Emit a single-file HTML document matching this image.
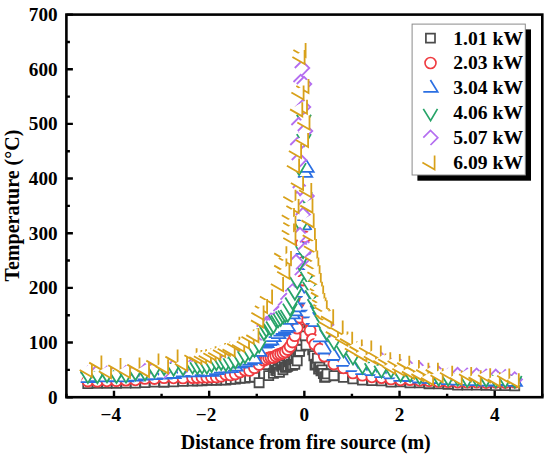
<!DOCTYPE html>
<html><head><meta charset="utf-8"><style>
html,body{margin:0;padding:0;background:#fff;}
svg{display:block}
text{font-family:"Liberation Serif",serif;font-weight:bold;fill:#000}
.tk{font-size:19.2px}
.lg{font-size:19.6px}
.ttl{font-size:20px}
</style></head><body>
<svg width="550" height="458" viewBox="0 0 550 458">
<rect width="550" height="458" fill="#fff"/>
<svg x="66.4" y="14.6" width="475.9" height="382.6" viewBox="66.4 14.6 475.9 382.6" overflow="hidden">
<defs><g id="mgray"><path d="M-4.55 -4.55H4.55V4.55H-4.55Z" fill="#fff"/><path d="M-4.55 -4.55H4.55V4.55H-4.55Z" fill="none" stroke="#4b4b4b" stroke-width="1.8"/></g><g id="mblue"><path d="M-0.1 -7.9L7.2 3.9H-7.2Z" fill="#fff"/><path d="M-0.1 -7.9L7.2 3.9H-7.2" fill="none" stroke="#2b6fe2" stroke-width="1.8"/></g><g id="mgreen"><path d="M-7.2 -3.9L0.1 7.9L7.0 -3.9Z" fill="#fff"/><path d="M-7.2 -3.9L0.1 7.9L7.0 -3.9" fill="none" stroke="#27a468" stroke-width="1.8"/></g><g id="mpurple"><path d="M-7.2 0L0 -7.2L7.3 0L0 7.3Z" fill="#fff"/><path d="M-7.2 0L0 -7.2L7.3 0L0 7.3" fill="none" stroke="#b46ef0" stroke-width="1.8"/></g><g id="morange"><path d="M4.1 -7.1V7.0L-8.1 0Z" fill="#fff"/><path d="M4.1 -7.1V7.0L-8.1 0" fill="none" stroke="#d8a11a" stroke-width="1.8"/></g><circle id="mred" r="5.5" fill="#fff" stroke="#ef3b40" stroke-width="1.8"/></defs>
<use href="#mgray" x="87.8" y="383.5"/><use href="#mgray" x="97.3" y="383.3"/><use href="#mgray" x="106.9" y="383.3"/><use href="#mgray" x="116.4" y="383.3"/><use href="#mgray" x="125.9" y="383.0"/><use href="#mgray" x="135.4" y="383.0"/><use href="#mgray" x="144.9" y="382.5"/><use href="#mgray" x="154.4" y="382.0"/><use href="#mgray" x="164.0" y="382.2"/><use href="#mgray" x="173.5" y="381.9"/><use href="#mgray" x="183.0" y="381.4"/><use href="#mgray" x="192.5" y="381.1"/><use href="#mgray" x="197.3" y="380.9"/><use href="#mgray" x="202.0" y="380.9"/><use href="#mgray" x="206.8" y="380.4"/><use href="#mgray" x="211.5" y="380.0"/><use href="#mgray" x="216.3" y="380.3"/><use href="#mgray" x="221.1" y="379.9"/><use href="#mgray" x="225.8" y="380.0"/><use href="#mgray" x="230.6" y="379.4"/><use href="#mgray" x="235.3" y="379.1"/><use href="#mgray" x="240.1" y="378.2"/><use href="#mgray" x="244.9" y="378.1"/><use href="#mgray" x="249.6" y="377.3"/><use href="#mgray" x="254.4" y="377.1"/><use href="#mgray" x="259.1" y="382.7"/><use href="#mgray" x="263.9" y="373.6"/><use href="#mgray" x="268.7" y="375.6"/><use href="#mgray" x="273.4" y="373.3"/><use href="#mgray" x="274.6" y="367.6"/><use href="#mgray" x="275.8" y="370.3"/><use href="#mgray" x="277.0" y="370.8"/><use href="#mgray" x="278.2" y="369.1"/><use href="#mgray" x="279.4" y="372.4"/><use href="#mgray" x="280.6" y="365.0"/><use href="#mgray" x="281.7" y="366.4"/><use href="#mgray" x="282.9" y="369.7"/><use href="#mgray" x="284.1" y="365.0"/><use href="#mgray" x="285.3" y="367.2"/><use href="#mgray" x="286.5" y="367.1"/><use href="#mgray" x="287.7" y="366.3"/><use href="#mgray" x="288.9" y="361.8"/><use href="#mgray" x="290.1" y="365.1"/><use href="#mgray" x="291.3" y="364.2"/><use href="#mgray" x="292.5" y="365.2"/><use href="#mgray" x="293.6" y="359.8"/><use href="#mgray" x="294.8" y="364.4"/><use href="#mgray" x="296.0" y="358.5"/><use href="#mgray" x="297.2" y="360.8"/><use href="#mgray" x="298.4" y="351.4"/><use href="#mgray" x="299.6" y="351.4"/><use href="#mgray" x="300.8" y="346.1"/><use href="#mgray" x="302.0" y="340.3"/><use href="#mgray" x="303.2" y="333.5"/><use href="#mgray" x="304.4" y="328.9"/><use href="#mgray" x="306.7" y="320.6"/><use href="#mgray" x="307.9" y="328.5"/><use href="#mgray" x="309.1" y="334.8"/><use href="#mgray" x="310.3" y="340.0"/><use href="#mgray" x="311.5" y="343.9"/><use href="#mgray" x="312.7" y="349.8"/><use href="#mgray" x="313.9" y="355.7"/><use href="#mgray" x="315.1" y="365.0"/><use href="#mgray" x="316.2" y="364.2"/><use href="#mgray" x="317.4" y="358.2"/><use href="#mgray" x="318.6" y="369.0"/><use href="#mgray" x="319.8" y="367.2"/><use href="#mgray" x="321.0" y="370.7"/><use href="#mgray" x="322.2" y="370.0"/><use href="#mgray" x="323.4" y="373.5"/><use href="#mgray" x="324.6" y="377.2"/><use href="#mgray" x="325.8" y="376.8"/><use href="#mgray" x="327.0" y="373.9"/><use href="#mgray" x="333.9" y="375.7"/><use href="#mgray" x="343.4" y="377.3"/><use href="#mgray" x="352.9" y="378.8"/><use href="#mgray" x="362.4" y="380.1"/><use href="#mgray" x="371.9" y="380.6"/><use href="#mgray" x="381.4" y="380.9"/><use href="#mgray" x="391.0" y="382.1"/><use href="#mgray" x="400.5" y="381.8"/><use href="#mgray" x="410.0" y="382.9"/><use href="#mgray" x="419.5" y="382.9"/><use href="#mgray" x="429.0" y="383.7"/><use href="#mgray" x="438.6" y="383.8"/><use href="#mgray" x="448.1" y="384.4"/><use href="#mgray" x="457.6" y="385.1"/><use href="#mgray" x="467.1" y="385.0"/><use href="#mgray" x="476.6" y="385.0"/><use href="#mgray" x="486.1" y="385.4"/><use href="#mgray" x="495.7" y="385.6"/><use href="#mgray" x="505.2" y="385.6"/><use href="#mgray" x="514.7" y="385.9"/><use href="#mgray" x="300.0" y="326.0"/><use href="#mgray" x="302.0" y="320.0"/><use href="#mgray" x="304.0" y="316.0"/><use href="#mgray" x="303.0" y="332.0"/><use href="#mgray" x="301.0" y="340.0"/><use href="#mgray" x="305.0" y="336.0"/><use href="#mgray" x="306.0" y="345.0"/>
<use href="#mred" x="87.8" y="381.0"/><use href="#mred" x="97.3" y="381.2"/><use href="#mred" x="106.9" y="380.8"/><use href="#mred" x="116.4" y="380.7"/><use href="#mred" x="125.9" y="380.1"/><use href="#mred" x="135.4" y="379.8"/><use href="#mred" x="144.9" y="378.4"/><use href="#mred" x="154.4" y="378.5"/><use href="#mred" x="164.0" y="377.7"/><use href="#mred" x="173.5" y="377.8"/><use href="#mred" x="183.0" y="377.9"/><use href="#mred" x="192.5" y="377.6"/><use href="#mred" x="197.3" y="377.5"/><use href="#mred" x="202.0" y="377.2"/><use href="#mred" x="206.8" y="377.2"/><use href="#mred" x="211.5" y="376.9"/><use href="#mred" x="216.3" y="376.9"/><use href="#mred" x="221.1" y="376.2"/><use href="#mred" x="225.8" y="374.5"/><use href="#mred" x="230.6" y="374.9"/><use href="#mred" x="235.3" y="374.0"/><use href="#mred" x="240.1" y="371.9"/><use href="#mred" x="244.9" y="370.1"/><use href="#mred" x="249.6" y="370.4"/><use href="#mred" x="254.4" y="367.7"/><use href="#mred" x="259.1" y="364.4"/><use href="#mred" x="263.9" y="360.3"/><use href="#mred" x="266.3" y="359.2"/><use href="#mred" x="268.7" y="357.9"/><use href="#mred" x="271.0" y="357.4"/><use href="#mred" x="273.4" y="357.4"/><use href="#mred" x="275.8" y="355.9"/><use href="#mred" x="278.2" y="354.6"/><use href="#mred" x="280.6" y="353.9"/><use href="#mred" x="282.9" y="352.9"/><use href="#mred" x="285.3" y="351.8"/><use href="#mred" x="287.7" y="349.5"/><use href="#mred" x="290.1" y="346.5"/><use href="#mred" x="292.5" y="342.0"/><use href="#mred" x="294.8" y="335.7"/><use href="#mred" x="297.2" y="328.1"/><use href="#mred" x="299.6" y="317.2"/><use href="#mred" x="302.0" y="297.3"/><use href="#mred" x="305.3" y="306.2"/><use href="#mred" x="307.7" y="320.0"/><use href="#mred" x="310.1" y="330.6"/><use href="#mred" x="312.4" y="339.4"/><use href="#mred" x="314.8" y="344.3"/><use href="#mred" x="319.6" y="349.2"/><use href="#mred" x="324.3" y="356.1"/><use href="#mred" x="333.9" y="364.0"/><use href="#mred" x="343.4" y="367.8"/><use href="#mred" x="352.9" y="372.9"/><use href="#mred" x="362.4" y="375.2"/><use href="#mred" x="371.9" y="376.8"/><use href="#mred" x="381.4" y="377.6"/><use href="#mred" x="391.0" y="378.9"/><use href="#mred" x="400.5" y="379.8"/><use href="#mred" x="410.0" y="379.6"/><use href="#mred" x="419.5" y="380.3"/><use href="#mred" x="429.0" y="380.7"/><use href="#mred" x="438.6" y="381.4"/><use href="#mred" x="448.1" y="381.6"/><use href="#mred" x="457.6" y="382.0"/><use href="#mred" x="467.1" y="382.2"/><use href="#mred" x="476.6" y="382.0"/><use href="#mred" x="486.1" y="382.5"/><use href="#mred" x="495.7" y="382.3"/><use href="#mred" x="505.2" y="382.5"/><use href="#mred" x="514.7" y="382.1"/><use href="#mred" x="301.5" y="243.5"/><use href="#mred" x="305.0" y="237.0"/><use href="#mred" x="304.0" y="262.0"/><use href="#mred" x="303.0" y="280.0"/><use href="#mred" x="305.0" y="300.0"/><use href="#mred" x="305.0" y="312.0"/>
<use href="#mblue" x="87.8" y="378.3"/><use href="#mblue" x="97.3" y="377.2"/><use href="#mblue" x="106.9" y="377.4"/><use href="#mblue" x="116.4" y="377.2"/><use href="#mblue" x="125.9" y="377.4"/><use href="#mblue" x="135.4" y="376.7"/><use href="#mblue" x="144.9" y="375.6"/><use href="#mblue" x="154.4" y="375.3"/><use href="#mblue" x="164.0" y="374.6"/><use href="#mblue" x="173.5" y="374.1"/><use href="#mblue" x="183.0" y="372.6"/><use href="#mblue" x="192.5" y="371.9"/><use href="#mblue" x="197.3" y="372.4"/><use href="#mblue" x="202.0" y="371.2"/><use href="#mblue" x="206.8" y="371.6"/><use href="#mblue" x="211.5" y="372.0"/><use href="#mblue" x="216.3" y="370.3"/><use href="#mblue" x="221.1" y="368.7"/><use href="#mblue" x="225.8" y="368.5"/><use href="#mblue" x="230.6" y="368.3"/><use href="#mblue" x="235.3" y="366.8"/><use href="#mblue" x="240.1" y="363.7"/><use href="#mblue" x="244.9" y="362.5"/><use href="#mblue" x="249.6" y="360.8"/><use href="#mblue" x="254.4" y="359.2"/><use href="#mblue" x="259.1" y="352.0"/><use href="#mblue" x="263.9" y="343.8"/><use href="#mblue" x="266.3" y="343.1"/><use href="#mblue" x="268.7" y="341.2"/><use href="#mblue" x="271.0" y="340.5"/><use href="#mblue" x="273.4" y="337.2"/><use href="#mblue" x="275.8" y="333.3"/><use href="#mblue" x="278.2" y="334.3"/><use href="#mblue" x="280.6" y="331.7"/><use href="#mblue" x="282.9" y="330.1"/><use href="#mblue" x="285.3" y="328.5"/><use href="#mblue" x="287.7" y="327.0"/><use href="#mblue" x="290.1" y="320.0"/><use href="#mblue" x="292.5" y="314.4"/><use href="#mblue" x="294.8" y="311.4"/><use href="#mblue" x="297.2" y="307.4"/><use href="#mblue" x="299.6" y="292.9"/><use href="#mblue" x="302.0" y="265.1"/><use href="#mblue" x="304.4" y="216.4"/><use href="#mblue" x="305.8" y="299.6"/><use href="#mblue" x="308.2" y="306.7"/><use href="#mblue" x="310.5" y="313.4"/><use href="#mblue" x="312.9" y="320.0"/><use href="#mblue" x="315.3" y="322.3"/><use href="#mblue" x="320.1" y="337.4"/><use href="#mblue" x="324.8" y="349.6"/><use href="#mblue" x="333.9" y="356.1"/><use href="#mblue" x="343.4" y="362.0"/><use href="#mblue" x="352.9" y="367.2"/><use href="#mblue" x="362.4" y="370.2"/><use href="#mblue" x="371.9" y="371.3"/><use href="#mblue" x="381.4" y="373.2"/><use href="#mblue" x="391.0" y="374.4"/><use href="#mblue" x="400.5" y="376.9"/><use href="#mblue" x="410.0" y="377.1"/><use href="#mblue" x="419.5" y="378.6"/><use href="#mblue" x="429.0" y="379.0"/><use href="#mblue" x="438.6" y="379.2"/><use href="#mblue" x="448.1" y="380.3"/><use href="#mblue" x="457.6" y="380.8"/><use href="#mblue" x="467.1" y="381.0"/><use href="#mblue" x="476.6" y="381.3"/><use href="#mblue" x="486.1" y="381.7"/><use href="#mblue" x="495.7" y="381.4"/><use href="#mblue" x="505.2" y="381.1"/><use href="#mblue" x="514.7" y="382.0"/><use href="#mblue" x="305.0" y="173.0"/><use href="#mblue" x="306.5" y="168.0"/><use href="#mblue" x="304.0" y="225.4"/><use href="#mblue" x="303.0" y="250.0"/>
<use href="#mpurple" x="87.8" y="373.5"/><use href="#mpurple" x="97.3" y="372.0"/><use href="#mpurple" x="106.9" y="373.6"/><use href="#mpurple" x="116.4" y="371.4"/><use href="#mpurple" x="125.9" y="373.1"/><use href="#mpurple" x="135.4" y="371.3"/><use href="#mpurple" x="144.9" y="371.3"/><use href="#mpurple" x="154.4" y="368.3"/><use href="#mpurple" x="164.0" y="371.1"/><use href="#mpurple" x="173.5" y="366.9"/><use href="#mpurple" x="183.0" y="367.9"/><use href="#mpurple" x="192.5" y="365.2"/><use href="#mpurple" x="197.3" y="363.4"/><use href="#mpurple" x="206.8" y="363.2"/><use href="#mpurple" x="216.3" y="359.5"/><use href="#mpurple" x="225.8" y="359.9"/><use href="#mpurple" x="235.3" y="355.1"/><use href="#mpurple" x="244.9" y="348.3"/><use href="#mpurple" x="254.4" y="340.5"/><use href="#mpurple" x="263.9" y="326.6"/><use href="#mpurple" x="266.3" y="324.1"/><use href="#mpurple" x="268.7" y="325.5"/><use href="#mpurple" x="271.0" y="320.7"/><use href="#mpurple" x="273.4" y="320.6"/><use href="#mpurple" x="275.8" y="320.4"/><use href="#mpurple" x="278.2" y="316.6"/><use href="#mpurple" x="280.6" y="311.2"/><use href="#mpurple" x="282.9" y="309.7"/><use href="#mpurple" x="285.3" y="305.3"/><use href="#mpurple" x="287.7" y="299.6"/><use href="#mpurple" x="290.1" y="297.2"/><use href="#mpurple" x="292.5" y="291.4"/><use href="#mpurple" x="294.8" y="267.9"/><use href="#mpurple" x="307.2" y="248.4"/><use href="#mpurple" x="309.6" y="266.7"/><use href="#mpurple" x="312.0" y="279.7"/><use href="#mpurple" x="314.3" y="291.9"/><use href="#mpurple" x="316.7" y="300.4"/><use href="#mpurple" x="319.1" y="307.0"/><use href="#mpurple" x="321.5" y="311.5"/><use href="#mpurple" x="323.9" y="320.4"/><use href="#mpurple" x="326.2" y="325.0"/><use href="#mpurple" x="333.9" y="339.9"/><use href="#mpurple" x="343.4" y="342.3"/><use href="#mpurple" x="352.9" y="353.0"/><use href="#mpurple" x="362.4" y="352.7"/><use href="#mpurple" x="371.9" y="359.7"/><use href="#mpurple" x="381.4" y="359.9"/><use href="#mpurple" x="391.0" y="366.0"/><use href="#mpurple" x="400.5" y="366.9"/><use href="#mpurple" x="410.0" y="368.4"/><use href="#mpurple" x="419.5" y="369.3"/><use href="#mpurple" x="429.0" y="373.8"/><use href="#mpurple" x="438.6" y="373.8"/><use href="#mpurple" x="448.1" y="376.0"/><use href="#mpurple" x="457.6" y="375.0"/><use href="#mpurple" x="467.1" y="375.8"/><use href="#mpurple" x="476.6" y="375.6"/><use href="#mpurple" x="486.1" y="376.6"/><use href="#mpurple" x="495.7" y="376.8"/><use href="#mpurple" x="505.2" y="377.3"/><use href="#mpurple" x="514.7" y="379.4"/>
<use href="#mgreen" x="87.8" y="375.2"/><use href="#mgreen" x="97.3" y="375.4"/><use href="#mgreen" x="106.9" y="374.4"/><use href="#mgreen" x="116.4" y="375.1"/><use href="#mgreen" x="125.9" y="374.7"/><use href="#mgreen" x="135.4" y="372.4"/><use href="#mgreen" x="144.9" y="372.5"/><use href="#mgreen" x="154.4" y="369.6"/><use href="#mgreen" x="164.0" y="367.1"/><use href="#mgreen" x="173.5" y="367.8"/><use href="#mgreen" x="183.0" y="367.4"/><use href="#mgreen" x="192.5" y="365.7"/><use href="#mgreen" x="197.3" y="366.2"/><use href="#mgreen" x="202.0" y="365.7"/><use href="#mgreen" x="206.8" y="365.8"/><use href="#mgreen" x="211.5" y="364.1"/><use href="#mgreen" x="216.3" y="362.3"/><use href="#mgreen" x="221.1" y="362.1"/><use href="#mgreen" x="225.8" y="363.0"/><use href="#mgreen" x="230.6" y="362.3"/><use href="#mgreen" x="235.3" y="360.5"/><use href="#mgreen" x="240.1" y="357.6"/><use href="#mgreen" x="244.9" y="355.3"/><use href="#mgreen" x="249.6" y="352.1"/><use href="#mgreen" x="254.4" y="348.9"/><use href="#mgreen" x="259.1" y="344.5"/><use href="#mgreen" x="263.9" y="332.4"/><use href="#mgreen" x="266.3" y="329.1"/><use href="#mgreen" x="268.7" y="326.2"/><use href="#mgreen" x="271.0" y="327.6"/><use href="#mgreen" x="273.4" y="325.4"/><use href="#mgreen" x="275.8" y="318.7"/><use href="#mgreen" x="278.2" y="319.2"/><use href="#mgreen" x="280.6" y="317.8"/><use href="#mgreen" x="282.9" y="315.4"/><use href="#mgreen" x="285.3" y="314.4"/><use href="#mgreen" x="287.7" y="313.8"/><use href="#mgreen" x="290.1" y="307.5"/><use href="#mgreen" x="292.5" y="301.4"/><use href="#mgreen" x="294.8" y="291.9"/><use href="#mgreen" x="297.2" y="280.9"/><use href="#mgreen" x="299.6" y="262.4"/><use href="#mgreen" x="305.3" y="206.8"/><use href="#mgreen" x="307.7" y="275.7"/><use href="#mgreen" x="310.1" y="285.8"/><use href="#mgreen" x="312.4" y="294.1"/><use href="#mgreen" x="314.8" y="303.1"/><use href="#mgreen" x="317.2" y="306.3"/><use href="#mgreen" x="319.6" y="312.9"/><use href="#mgreen" x="322.0" y="319.2"/><use href="#mgreen" x="324.3" y="327.2"/><use href="#mgreen" x="326.7" y="332.1"/><use href="#mgreen" x="333.9" y="341.7"/><use href="#mgreen" x="343.4" y="349.3"/><use href="#mgreen" x="352.9" y="356.7"/><use href="#mgreen" x="362.4" y="365.8"/><use href="#mgreen" x="371.9" y="367.1"/><use href="#mgreen" x="381.4" y="369.7"/><use href="#mgreen" x="391.0" y="369.7"/><use href="#mgreen" x="400.5" y="373.9"/><use href="#mgreen" x="410.0" y="373.8"/><use href="#mgreen" x="419.5" y="376.0"/><use href="#mgreen" x="429.0" y="376.4"/><use href="#mgreen" x="438.6" y="377.9"/><use href="#mgreen" x="448.1" y="377.8"/><use href="#mgreen" x="457.6" y="377.7"/><use href="#mgreen" x="467.1" y="379.2"/><use href="#mgreen" x="476.6" y="378.4"/><use href="#mgreen" x="486.1" y="378.9"/><use href="#mgreen" x="495.7" y="379.7"/><use href="#mgreen" x="505.2" y="379.7"/><use href="#mgreen" x="514.7" y="379.9"/><use href="#mgreen" x="304.0" y="118.6"/><use href="#mgreen" x="304.0" y="138.0"/><use href="#mgreen" x="299.0" y="167.0"/><use href="#mgreen" x="305.0" y="196.0"/><use href="#mgreen" x="300.0" y="208.0"/><use href="#mgreen" x="301.0" y="225.0"/><use href="#mgreen" x="303.0" y="250.0"/>
<use href="#mpurple" x="302.0" y="68.0"/><use href="#mpurple" x="300.7" y="82.0"/><use href="#mpurple" x="304.0" y="84.0"/><use href="#mpurple" x="303.0" y="107.0"/><use href="#mpurple" x="298.6" y="125.0"/><use href="#mpurple" x="305.0" y="131.0"/><use href="#mpurple" x="297.5" y="145.0"/><use href="#mpurple" x="300.0" y="188.0"/><use href="#mpurple" x="297.0" y="199.0"/><use href="#mpurple" x="306.6" y="196.0"/><use href="#mpurple" x="299.0" y="160.0"/><use href="#mpurple" x="303.0" y="215.0"/><use href="#mpurple" x="300.0" y="235.0"/><use href="#mpurple" x="305.0" y="250.0"/><use href="#mpurple" x="296.0" y="262.0"/>
<use href="#morange" x="87.8" y="370.0"/><use href="#morange" x="97.3" y="362.6"/><use href="#morange" x="106.9" y="371.3"/><use href="#morange" x="116.4" y="365.2"/><use href="#morange" x="125.9" y="370.8"/><use href="#morange" x="135.4" y="364.6"/><use href="#morange" x="144.9" y="369.9"/><use href="#morange" x="154.4" y="360.6"/><use href="#morange" x="164.0" y="366.4"/><use href="#morange" x="173.5" y="356.6"/><use href="#morange" x="183.0" y="363.8"/><use href="#morange" x="192.5" y="355.3"/><use href="#morange" x="197.3" y="357.0"/><use href="#morange" x="202.0" y="356.3"/><use href="#morange" x="206.8" y="355.7"/><use href="#morange" x="211.5" y="353.3"/><use href="#morange" x="216.3" y="352.8"/><use href="#morange" x="221.1" y="350.0"/><use href="#morange" x="225.8" y="348.8"/><use href="#morange" x="230.6" y="349.4"/><use href="#morange" x="235.3" y="343.8"/><use href="#morange" x="240.1" y="344.7"/><use href="#morange" x="244.9" y="341.5"/><use href="#morange" x="249.6" y="336.7"/><use href="#morange" x="254.4" y="335.1"/><use href="#morange" x="259.1" y="320.4"/><use href="#morange" x="307.2" y="190.2"/><use href="#morange" x="308.4" y="205.6"/><use href="#morange" x="309.6" y="220.4"/><use href="#morange" x="310.8" y="235.2"/><use href="#morange" x="312.0" y="246.2"/><use href="#morange" x="313.2" y="257.5"/><use href="#morange" x="314.3" y="264.7"/><use href="#morange" x="315.5" y="272.3"/><use href="#morange" x="316.7" y="280.0"/><use href="#morange" x="317.9" y="288.8"/><use href="#morange" x="319.1" y="292.6"/><use href="#morange" x="320.3" y="300.0"/><use href="#morange" x="321.5" y="304.7"/><use href="#morange" x="322.7" y="307.3"/><use href="#morange" x="323.9" y="315.1"/><use href="#morange" x="325.1" y="315.9"/><use href="#morange" x="326.2" y="317.3"/><use href="#morange" x="327.4" y="322.2"/><use href="#morange" x="329.1" y="316.4"/><use href="#morange" x="333.9" y="331.9"/><use href="#morange" x="338.6" y="327.7"/><use href="#morange" x="343.4" y="338.7"/><use href="#morange" x="348.1" y="338.9"/><use href="#morange" x="352.9" y="348.5"/><use href="#morange" x="357.7" y="346.6"/><use href="#morange" x="362.4" y="354.1"/><use href="#morange" x="367.2" y="347.7"/><use href="#morange" x="371.9" y="356.5"/><use href="#morange" x="376.7" y="352.7"/><use href="#morange" x="381.4" y="360.7"/><use href="#morange" x="386.2" y="359.3"/><use href="#morange" x="391.0" y="366.8"/><use href="#morange" x="395.7" y="361.0"/><use href="#morange" x="400.5" y="368.8"/><use href="#morange" x="405.2" y="362.9"/><use href="#morange" x="410.0" y="371.6"/><use href="#morange" x="414.8" y="367.1"/><use href="#morange" x="419.5" y="374.1"/><use href="#morange" x="424.3" y="369.9"/><use href="#morange" x="429.0" y="377.9"/><use href="#morange" x="433.8" y="369.9"/><use href="#morange" x="438.6" y="375.3"/><use href="#morange" x="448.1" y="372.8"/><use href="#morange" x="457.6" y="377.7"/><use href="#morange" x="467.1" y="374.2"/><use href="#morange" x="476.6" y="377.4"/><use href="#morange" x="486.1" y="375.3"/><use href="#morange" x="495.7" y="379.4"/><use href="#morange" x="505.2" y="375.7"/><use href="#morange" x="514.7" y="380.4"/><use href="#morange" x="301.5" y="50.0"/><use href="#morange" x="300.5" y="57.0"/><use href="#morange" x="304.4" y="86.0"/><use href="#morange" x="299.5" y="92.5"/><use href="#morange" x="302.9" y="106.8"/><use href="#morange" x="298.2" y="109.4"/><use href="#morange" x="305.4" y="122.5"/><use href="#morange" x="304.0" y="140.0"/><use href="#morange" x="297.0" y="151.0"/><use href="#morange" x="295.0" y="165.7"/><use href="#morange" x="299.0" y="183.0"/><use href="#morange" x="291.4" y="196.8"/><use href="#morange" x="294.5" y="206.0"/><use href="#morange" x="289.9" y="215.2"/><use href="#morange" x="291.4" y="222.8"/><use href="#morange" x="289.9" y="230.5"/><use href="#morange" x="291.4" y="238.0"/><use href="#morange" x="282.3" y="253.4"/><use href="#morange" x="286.9" y="258.0"/><use href="#morange" x="282.3" y="265.6"/><use href="#morange" x="285.3" y="271.7"/><use href="#morange" x="279.0" y="284.0"/><use href="#morange" x="268.0" y="296.5"/><use href="#morange" x="263.0" y="306.0"/><use href="#morange" x="259.5" y="312.7"/>
</svg>
<path d="M66.40 397.2v-3.5M113.99 397.2v-6.5M161.58 397.2v-3.5M209.17 397.2v-6.5M256.76 397.2v-3.5M304.35 397.2v-6.5M351.94 397.2v-3.5M399.53 397.2v-6.5M447.12 397.2v-3.5M494.71 397.2v-6.5M542.30 397.2v-3.5M66.4 397.20h6.5M66.4 369.87h3.5M66.4 342.54h6.5M66.4 315.21h3.5M66.4 287.89h6.5M66.4 260.56h3.5M66.4 233.23h6.5M66.4 205.90h3.5M66.4 178.57h6.5M66.4 151.24h3.5M66.4 123.91h6.5M66.4 96.59h3.5M66.4 69.26h6.5M66.4 41.93h3.5M66.4 14.60h6.5" stroke="#000" stroke-width="2.4" fill="none"/>
<rect x="66.4" y="14.6" width="475.9" height="382.6" fill="none" stroke="#000" stroke-width="2.6"/>
<text x="57.6" y="403.7" class="tk" text-anchor="end">0</text>
<text x="57.6" y="349.0" class="tk" text-anchor="end">100</text>
<text x="57.6" y="294.4" class="tk" text-anchor="end">200</text>
<text x="57.6" y="239.7" class="tk" text-anchor="end">300</text>
<text x="57.6" y="185.1" class="tk" text-anchor="end">400</text>
<text x="57.6" y="130.4" class="tk" text-anchor="end">500</text>
<text x="57.6" y="75.8" class="tk" text-anchor="end">600</text>
<text x="57.6" y="21.1" class="tk" text-anchor="end">700</text>
<text x="110.8" y="420.8" class="tk" text-anchor="middle">−4</text>
<text x="206.0" y="420.8" class="tk" text-anchor="middle">−2</text>
<text x="304.4" y="420.8" class="tk" text-anchor="middle">0</text>
<text x="399.5" y="420.8" class="tk" text-anchor="middle">2</text>
<text x="494.7" y="420.8" class="tk" text-anchor="middle">4</text>
<text x="305.8" y="449.3" class="ttl" text-anchor="middle">Distance from fire source (m)</text>
<text transform="translate(19.4 205.6) rotate(-90)" class="ttl" text-anchor="middle">Temperature (°C)</text>
<rect x="417.4" y="29.4" width="113.6" height="151.3" fill="#000"/>
<rect x="412.1" y="24.1" width="113.2" height="150.9" fill="#fff" stroke="#8a8a8a" stroke-width="1"/>
<path d="M425.9 33.6h9.1v9.1h-9.1z" fill="none" stroke="#4b4b4b" stroke-width="1.7"/>
<text x="453.3" y="44.5" class="lg">1.01 kW</text>
<circle cx="430.5" cy="63.0" r="5.5" fill="none" stroke="#ef3b40" stroke-width="1.6"/>
<text x="453.3" y="69.4" class="lg">2.03 kW</text>
<path d="M430.4 80.0L437.7 91.8H423.3" fill="none" stroke="#2b6fe2" stroke-width="1.7"/>
<text x="453.3" y="94.3" class="lg">3.04 kW</text>
<path d="M423.3 108.9L430.6 120.7L437.5 108.9" fill="none" stroke="#27a468" stroke-width="1.7"/>
<text x="453.3" y="119.2" class="lg">4.06 kW</text>
<path d="M423.3 137.7L430.5 130.5L437.8 137.7L430.5 145.0" fill="none" stroke="#b46ef0" stroke-width="1.7"/>
<text x="453.3" y="144.1" class="lg">5.07 kW</text>
<path d="M434.6 155.5V169.6L422.4 162.6" fill="none" stroke="#d8a11a" stroke-width="1.7"/>
<text x="453.3" y="169.0" class="lg">6.09 kW</text>
</svg>
</body></html>
